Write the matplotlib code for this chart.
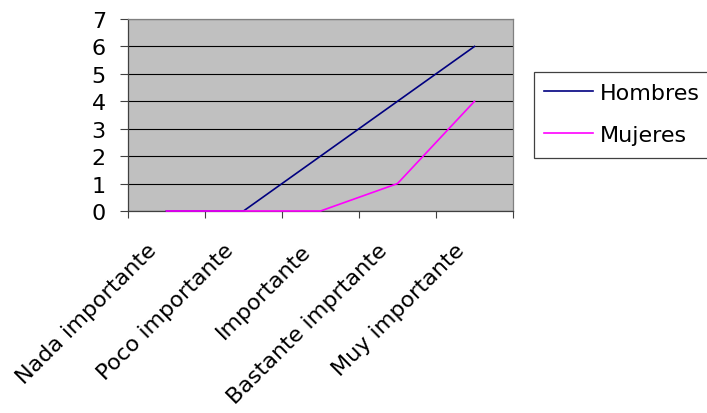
import matplotlib.pyplot as plt
import matplotlib.transforms as mtransforms
from matplotlib.patches import Rectangle
import numpy as np

plt.rcParams['font.family'] = ['DejaVu Sans']

categorias = ['Nada importante', 'Poco importante', 'Importante',
              'Bastante imprtante', 'Muy importante']
hombres = [0, 0, 2, 4, 6]
mujeres = [0, 0, 0, 1, 4]

fig = plt.figure(figsize=(7.07, 4.14), dpi=100)
ax = fig.add_axes([128/707, 1-212/414, 385/707, 192/414])
ax.set_facecolor('#C0C0C0')

x = np.arange(len(categorias))
ax.plot(x, hombres, color='#000080', lw=1.2, label='Hombres', clip_on=False, zorder=3)
ax.plot(x, mujeres, color='#FF00FF', lw=1.2, label='Mujeres', clip_on=False, zorder=3)

ax.set_xlim(-0.5, len(categorias) - 0.5)
ax.set_ylim(0, 7)
ax.set_yticks(range(8))
ax.yaxis.grid(True, color='black', lw=0.8)
ax.set_axisbelow(True)

# ticks on category borders, labels at the centers
ax.set_xticks(np.arange(len(categorias) + 1) - 0.5)
ax.set_xticklabels([])
ax.set_xticks(x, minor=True)
ax.set_xticklabels(categorias, minor=True, rotation=45, ha='right', va='top',
                   rotation_mode='anchor', fontsize=16)
ax.tick_params(axis='x', which='minor', length=0, pad=20.8)
ax.tick_params(axis='x', which='major', length=5, width=0.8, color='#404040')
ax.tick_params(axis='y', length=6, width=0.8, color='#404040', labelsize=16, pad=10)
off = mtransforms.ScaledTranslation(-20/100, 0, fig.dpi_scale_trans)
for lab in ax.xaxis.get_minorticklabels():
    lab.set_transform(lab.get_transform() + off)

for s in ['top', 'right']:
    ax.spines[s].set_color('#808080')
for s in ['left', 'bottom']:
    ax.spines[s].set_color('#404040')
for s in ax.spines.values():
    s.set_linewidth(0.9)

# legend box running off the right edge
fig.patches.append(Rectangle((534/707, 1-159/414), 200/707, 86/414,
                             transform=fig.transFigure, facecolor='white',
                             edgecolor='#404040', lw=0.9, clip_on=False))
leg = fig.legend(loc='upper left', bbox_to_anchor=(544/707, 1-84/414),
                 frameon=False, fontsize=16, handlelength=2.2, handletextpad=0.32,
                 labelspacing=1.0, borderaxespad=0, borderpad=0)

fig.savefig('out.png', dpi=100)
